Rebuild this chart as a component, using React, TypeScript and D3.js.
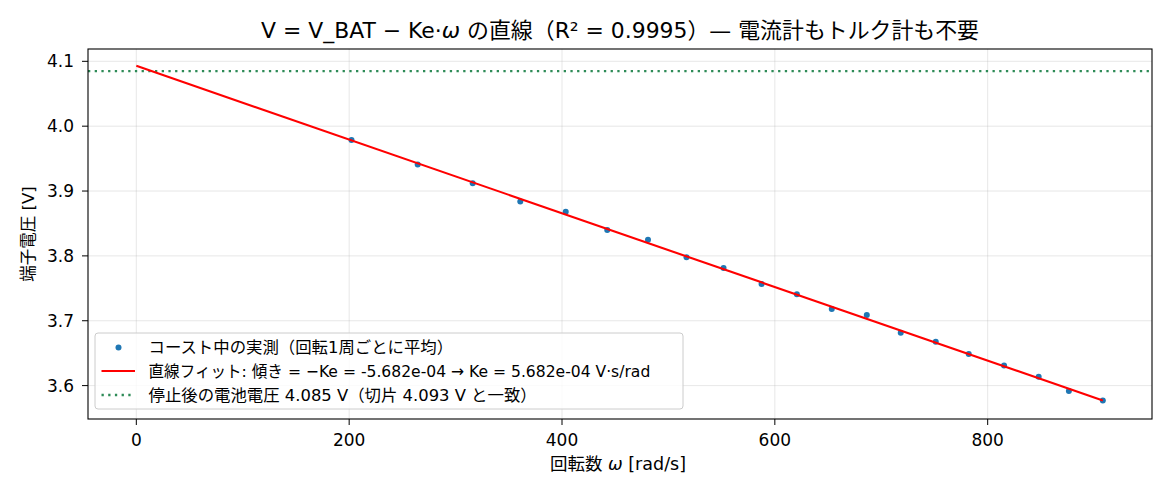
import React from 'react';
import * as d3 from 'd3';

// 回転1周ごとの平均 (コースト中)
const omega = [202.2, 264.4, 316.1, 360.8, 403.5, 442.5, 480.8, 517.0, 551.8, 587.5, 620.7, 653.5, 686.4, 718.3, 751.2, 782.2, 815.4, 847.9, 876.3, 908.2];
const voltage = [3.9785, 3.941, 3.912, 3.884, 3.868, 3.84, 3.825, 3.798, 3.7815, 3.7565, 3.741, 3.718, 3.7087, 3.6815, 3.6677, 3.6487, 3.6308, 3.6138, 3.5918, 3.5769];

// 直線フィット
const slope = -5.682e-4;
const intercept = 4.093;
const vRest = 4.085;

const xTicks = [0, 200, 400, 600, 800];
const yTicks = [3.6, 3.7, 3.8, 3.9, 4.0, 4.1];

const legendLabels = [
  'コースト中の実測（回転1周ごとに平均）',
  '直線フィット: 傾き = −Ke = -5.682e-04 → Ke = 5.682e-04 V·s/rad',
  '停止後の電池電圧 4.085 V（切片 4.093 V と一致）',
];
// 参照画像に合わせた横方向の詰め
const legendSquash = [1, 0.95, 1];

const W = 1170;
const H = 494;
const left = 88;
const right = 1152;
const top = 49;
const bottom = 419;

const FONT = '"DejaVu Sans", "Noto Sans CJK JP", sans-serif';

export default function App() {
  const x = d3.scaleLinear().domain([-45.4, 954.4]).range([left, right]);
  const y = d3.scaleLinear().domain([3.5485, 4.119]).range([bottom, top]);

  const fitX = [0, d3.max(omega) as number];
  const fitLine = d3
    .line<number>()
    .x((d) => x(d))
    .y((d) => y(intercept + slope * d))(fitX) as string;

  const legX = 95;
  const legY = 333;
  const legW = 588;
  const legH = 76;
  const rowY = [347.5, 371, 395];

  return (
    <svg width={W} height={H} style={{ display: 'block', position: 'absolute', left: 0, top: 0 }} fontFamily={FONT}>
      <rect width={W} height={H} fill="#fff" />

      {/* グリッド */}
      {xTicks.map((t) => (
        <line key={`gx${t}`} x1={x(t)} x2={x(t)} y1={top} y2={bottom} stroke="#b0b0b0" strokeOpacity={0.3} strokeWidth={1} />
      ))}
      {yTicks.map((t) => (
        <line key={`gy${t}`} x1={left} x2={right} y1={y(t)} y2={y(t)} stroke="#b0b0b0" strokeOpacity={0.3} strokeWidth={1} />
      ))}

      {/* 停止後の電池電圧 */}
      <line x1={left} x2={right} y1={y(vRest)} y2={y(vRest)} stroke="#2e8b57" strokeWidth={2.3} strokeDasharray="2.3 4.4" />

      {/* 実測点 */}
      {omega.map((w, i) => (
        <circle key={i} cx={x(w)} cy={y(voltage[i])} r={3} fill="#1f77b4" />
      ))}

      {/* フィット直線 */}
      <path d={fitLine} fill="none" stroke="#ff0000" strokeWidth={2.1} />

      {/* 枠 */}
      <rect x={left} y={top} width={right - left} height={bottom - top} fill="none" stroke="#000" strokeWidth={1.1} />

      {/* 目盛り */}
      {xTicks.map((t) => (
        <g key={`tx${t}`}>
          <line x1={x(t)} x2={x(t)} y1={bottom} y2={bottom + 6} stroke="#000" strokeWidth={1} />
          <text x={x(t)} y={bottom + 26.5} textAnchor="middle" fontSize={17} fill="#000">
            {t}
          </text>
        </g>
      ))}
      {yTicks.map((t) => (
        <g key={`ty${t}`}>
          <line x1={left - 6} x2={left} y1={y(t)} y2={y(t)} stroke="#000" strokeWidth={1} />
          <text x={left - 14} y={y(t)} dy="0.36em" textAnchor="end" fontSize={17} fill="#000">
            {t.toFixed(1)}
          </text>
        </g>
      ))}

      {/* タイトル */}
      <text x={(left + right) / 2} y={37.5} textAnchor="middle" fontSize={21.9} fill="#000">
        V = V_BAT − Ke·<tspan fontStyle="italic">ω</tspan> の直線（R² = 0.9995）— 電流計もトルク計も不要
      </text>

      {/* 軸ラベル */}
      <text x={618} y={470} textAnchor="middle" fontSize={17.5} fill="#000">
        回転数 <tspan fontStyle="italic">ω</tspan> [rad/s]
      </text>
      <text transform={`translate(34, ${(top + bottom) / 2}) rotate(-90)`} textAnchor="middle" fontSize={16.5} fill="#000">
        端子電圧 [V]
      </text>

      {/* 凡例 */}
      <rect x={legX} y={legY} width={legW} height={legH} rx={3} fill="#fff" fillOpacity={0.8} stroke="#cccccc" strokeWidth={1} />
      <circle cx={118.5} cy={rowY[0]} r={3} fill="#1f77b4" />
      <line x1={101.5} x2={135} y1={rowY[1]} y2={rowY[1]} stroke="#ff0000" strokeWidth={2.1} />
      <line x1={101.5} x2={135} y1={rowY[2]} y2={rowY[2]} stroke="#2e8b57" strokeWidth={2.3} strokeDasharray="2.3 4.4" />
      {legendLabels.map((l, i) => (
        <text
          key={i}
          transform={`translate(148.5, ${rowY[i]}) scale(${legendSquash[i]}, 1)`}
          dy="0.36em"
          fontSize={16.4}
          fill="#000">
          {l}
        </text>
      ))}
    </svg>
  );
}
